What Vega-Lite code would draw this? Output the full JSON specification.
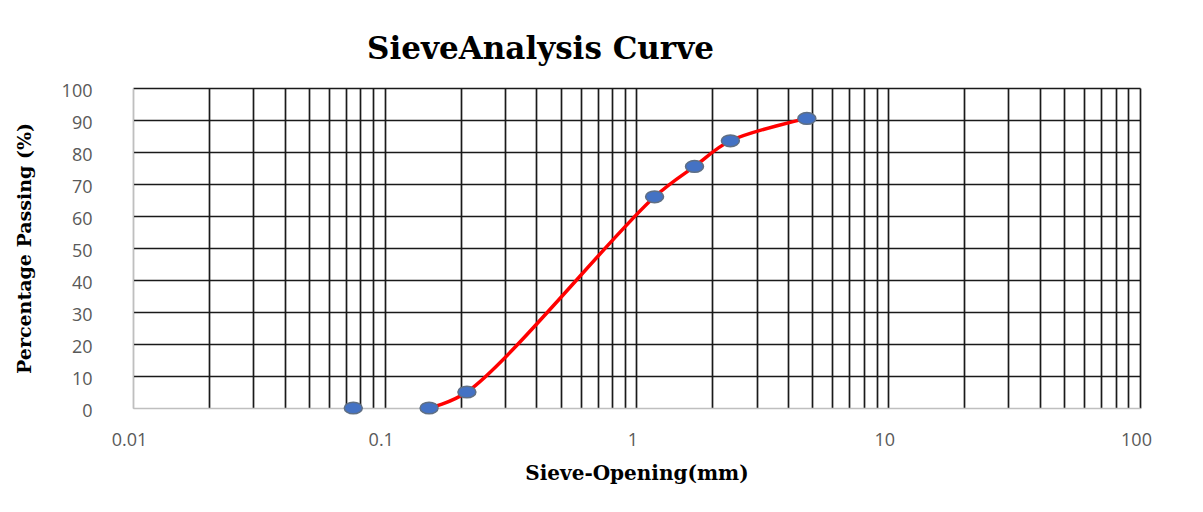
{
  "$schema": "https://vega.github.io/schema/vega-lite/v6.json",
  "width": 1007,
  "height": 320,
  "autosize": {"type": "none"},
  "padding": {"left": 133, "top": 88, "right": 63, "bottom": 104},
  "background": "white",
  "title": {
    "text": "SieveAnalysis Curve",
    "font": "DejaVu Serif",
    "fontWeight": "bold",
    "fontSize": 31,
    "color": "black",
    "anchor": "middle",
    "dx": -96,
    "baseline": "alphabetic",
    "offset": -8
  },
  "data": {
    "values": [
      {"opening": 0.075, "passing": 0, "curve": false},
      {"opening": 0.15, "passing": 0, "curve": true},
      {"opening": 0.212, "passing": 5, "curve": true},
      {"opening": 1.18, "passing": 66, "curve": true},
      {"opening": 1.7, "passing": 75.5, "curve": true},
      {"opening": 2.36, "passing": 83.5, "curve": true},
      {"opening": 4.75, "passing": 90.5, "curve": true}
    ]
  },
  "encoding": {
    "x": {
      "field": "opening",
      "type": "quantitative",
      "scale": {"type": "log", "domain": [0.01, 100]},
      "axis": {
        "values": [0.01, 0.02, 0.03, 0.04, 0.05, 0.06, 0.07, 0.08, 0.09,
                   0.1, 0.2, 0.3, 0.4, 0.5, 0.6, 0.7, 0.8, 0.9,
                   1, 2, 3, 4, 5, 6, 7, 8, 9,
                   10, 20, 30, 40, 50, 60, 70, 80, 90, 100],
        "labelExpr": "abs(log(datum.value) / LN10 - round(log(datum.value) / LN10)) < 1e-6 ? format(datum.value, '~g') : ''",
        "labelOverlap": false,
        "labelFlush": false,
        "grid": true,
        "gridColor": {"condition": {"test": "datum.value == 0.01", "value": "#BFBFBF"}, "value": "#1a1a1a"},
        "gridWidth": 1.7,
        "ticks": false,
        "domainColor": "#BFBFBF",
        "domainWidth": 1.2,
        "labelFont": "Open Sans",
        "labelFontSize": 18,
        "labelColor": "#595959",
        "labelPadding": 23,
        "labelOffset": -4,
        "title": "Sieve-Opening(mm)",
        "titleFont": "DejaVu Serif",
        "titleFontSize": 20,
        "titleFontWeight": "bold",
        "titleColor": "black",
        "titlePadding": 14
      }
    },
    "y": {
      "field": "passing",
      "type": "quantitative",
      "scale": {"domain": [0, 100], "nice": false},
      "axis": {
        "values": [0, 10, 20, 30, 40, 50, 60, 70, 80, 90, 100],
        "grid": true,
        "gridColor": {"condition": {"test": "datum.value == 0", "value": "#BFBFBF"}, "value": "#1a1a1a"},
        "gridWidth": 1.7,
        "ticks": false,
        "domainColor": "#BFBFBF",
        "domainWidth": 1.2,
        "labelFont": "Open Sans",
        "labelFontSize": 18,
        "labelColor": "#595959",
        "labelPadding": 41,
        "labelOffset": 3,
        "labelOverlap": false,
        "title": "Percentage Passing (%)",
        "titleFont": "DejaVu Serif",
        "titleFontSize": 19,
        "titleFontWeight": "bold",
        "titleColor": "black",
        "titlePadding": 27
      }
    }
  },
  "layer": [
    {
      "transform": [{"filter": "datum.curve"}],
      "mark": {"type": "line", "color": "#FF0000", "strokeWidth": 3.5, "interpolate": "catmull-rom"}
    },
    {
      "mark": {
        "type": "point",
        "shape": "M -1 0 A 1 0.65 0 1 0 1 0 A 1 0.65 0 1 0 -1 0 Z",
        "size": 324,
        "filled": true,
        "fill": "#4472C4",
        "stroke": "#5F6F84",
        "strokeWidth": 1.5,
        "opacity": 1
      }
    }
  ],
  "config": {"view": {"stroke": null}}
}
